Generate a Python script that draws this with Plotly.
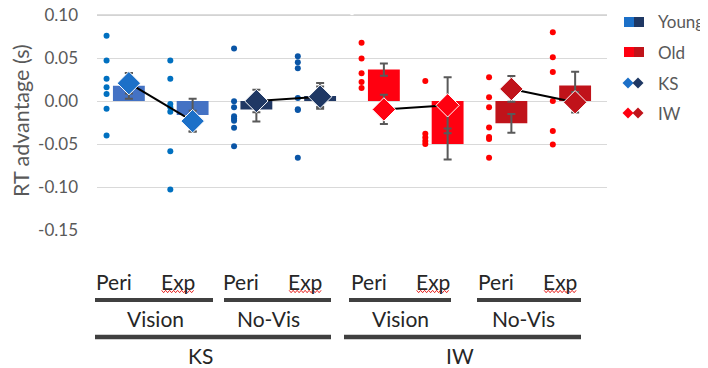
import plotly.graph_objects as go

# ---------------- data ----------------
subjects = ["KS", "IW"]
vision_groups = ["Vision", "No-Vis", "Vision", "No-Vis"]
phases = ["Peri", "Exp", "Peri", "Exp", "Peri", "Exp", "Peri", "Exp"]

bar_values = [0.0176, -0.0164, -0.0098, 0.0059, 0.0365, -0.0500, -0.0260, 0.0179]
bar_errors = [0.0150, 0.0190, 0.0140, 0.0150, 0.0070, 0.0180, 0.0110, 0.0160]

diamond_values = [0.0207, -0.0234, 0.0000, 0.0050, -0.0098, -0.0050, 0.0140, -0.0015]
diamond_errors = [0.0120, 0.0120, 0.0130, 0.0120, 0.0170, 0.0326, 0.0150, 0.0120]

dots_ks_vis_peri = [0.076, 0.047, 0.026, 0.016, 0.008, -0.009, -0.040]
dots_ks_vis_exp = [0.047, 0.026, -0.0035, -0.0074, -0.0125, -0.0585, -0.103]
dots_ks_nov_peri = [0.061, -0.0004, -0.0074, -0.0176, -0.0207, -0.023, -0.031, -0.0527]
dots_ks_nov_exp = [0.052, 0.045, 0.038, 0.0035, -0.0097, -0.0105, -0.066]
dots_iw_vis_peri = [0.0676, 0.0495, 0.0324, 0.0222, 0.0152]
dots_iw_vis_exp = [0.0234, -0.038, -0.0425, -0.0465, -0.050, -0.154]
dots_iw_nov_peri = [0.0277, 0.0043, -0.0074, -0.0308, -0.0418, -0.0441, -0.066]
dots_iw_nov_exp = [0.080, 0.051, 0.0336, 0.0, -0.0348, -0.0507]

tick_values = [0.10, 0.05, 0.00, -0.05, -0.10, -0.15]
tick_labels = ["0.10", "0.05", "0.00", "-0.05", "-0.10", "-0.15"]

legend_labels = ["Young", "Old", "KS", "IW"]

# ---------------- styles ----------------
all_dots = [dots_ks_vis_peri, dots_ks_vis_exp, dots_ks_nov_peri, dots_ks_nov_exp,
            dots_iw_vis_peri, dots_iw_vis_exp, dots_iw_nov_peri, dots_iw_nov_exp]
bar_colors = ["#4472C4", "#4472C4", "#203864", "#203864",
              "#FF0010", "#FF0010", "#C0131A", "#C0131A"]
diamond_colors = ["#1C70C8", "#1C70C8", "#1F3864", "#1F3864",
                  "#FF0010", "#FF0010", "#C0131A", "#C0131A"]
dot_colors = ["#0070C0", "#0070C0", "#0A55A6", "#0A55A6",
              "#FF0000", "#FF0000", "#FF0000", "#FF0000"]
ERR = "#595959"
GRID = "#D9D9D9"
FONT = "Lato"

# window size and the page's default body margin
W, H = 708, 368
BODY = 8
# plot area in window pixel coordinates (zero line at y=101, 860 px per unit)
PL, PR, PT, PB = 97, 607, 12, 230
Y0, KPX = 101, 860.0
Y_RANGE = [(Y0 - PB) / KPX, (Y0 - PT) / KPX]


def px(x):
    return (x - PL) / (PR - PL)


def py(y):
    return (PB - y) / (PB - PT)


n = len(bar_values)
xs = list(range(n))
half = n / 2 - 0.5

fig = go.Figure()

# bars
fig.add_trace(go.Bar(
    x=xs, y=bar_values, width=0.5,
    marker=dict(color=bar_colors, line=dict(width=0)),
    error_y=dict(type="data", array=bar_errors, color=ERR, thickness=2, width=4),
    showlegend=False, hoverinfo="skip",
))

# individual dots
for i, vals in enumerate(all_dots):
    fig.add_trace(go.Scatter(
        x=[i - 0.35] * len(vals), y=vals, mode="markers",
        marker=dict(size=6, color=dot_colors[i]),
        cliponaxis=False, showlegend=False, hoverinfo="skip",
    ))

# diamonds with connecting lines (pairs Peri -> Exp)
for p in range(n // 2):
    idx = [2 * p, 2 * p + 1]
    fig.add_trace(go.Scatter(
        x=idx, y=[diamond_values[i] for i in idx], mode="lines+markers",
        line=dict(color="black", width=2),
        marker=dict(symbol="diamond", size=18,
                    color=[diamond_colors[i] for i in idx],
                    line=dict(color="white", width=1)),
        error_y=dict(type="data", array=[diamond_errors[i] for i in idx],
                     color=ERR, thickness=2, width=4),
        cliponaxis=False, showlegend=False, hoverinfo="skip",
    ))

shapes = []
annotations = []

# top gridline, drawn explicitly in two panel segments (nothing in the data reaches it)
for a, b in [(-0.5, half - 0.025), (half + 0.025, n - 0.5)]:
    shapes.append(dict(type="line", xref="x", yref="y", x0=a, x1=b,
                       y0=tick_values[0], y1=tick_values[0],
                       line=dict(color="#D0D0D0", width=1.5), layer="above"))

# small gap in the gridlines between the two panels
shapes.append(dict(type="line", xref="x", yref="paper", x0=half, x1=half, y0=-0.01, y1=0.98,
                   line=dict(color="white", width=3), layer="between"))

# y-axis title
annotations.append(dict(text="RT advantage (s)", xref="paper", yref="paper",
                        x=px(21), y=py(121), textangle=-90, showarrow=False,
                        xanchor="center", yanchor="middle",
                        font=dict(family=FONT, size=21.5, color="#595959")))

# Peri / Exp labels
LBL = "#262626"
for i, lab in enumerate(phases):
    annotations.append(dict(text=lab, xref="x", yref="paper", x=i, xshift=-15,
                            y=py(281), showarrow=False, xanchor="center", yanchor="middle",
                            font=dict(family=FONT, size=21, color=LBL)))
    if lab == "Exp":
        # spell-check squiggle under the word
        cx = PL + (i + 0.5) * (PR - PL) / n - 15
        x0, x1, yb = cx - 16, cx + 17, 291.5
        pts = []
        k = 0
        x = x0
        while x <= x1:
            yy = yb - 1.2 if k % 2 == 0 else yb + 1.2
            pts.append((x, yy))
            x += 2
            k += 1
        path = "M " + " L ".join(f"{px(a):.5f},{py(b):.5f}" for a, b in pts)
        shapes.append(dict(type="path", xref="paper", yref="paper", path=path,
                           line=dict(color="#E8201C", width=1)))

# level-1 underlines and Vision / No-Vis labels
lvl1 = [(95, 213), (224, 331), (349, 451), (477, 581)]
lvl1_lbl = [155, 268, 400, 523]
for (a, b), c, lab in zip(lvl1, lvl1_lbl, vision_groups):
    shapes.append(dict(type="line", xref="paper", yref="paper", x0=px(a), x1=px(b),
                       y0=py(300), y1=py(300), line=dict(color="#404040", width=4)))
    annotations.append(dict(text=lab, xref="paper", yref="paper", x=px(c), y=py(318),
                            showarrow=False, xanchor="center", yanchor="middle",
                            font=dict(family=FONT, size=21, color=LBL)))

# level-2 underlines and subject labels
lvl2 = [(95, 331), (344, 581)]
lvl2_lbl = [200, 460]
for (a, b), c, lab in zip(lvl2, lvl2_lbl, subjects):
    shapes.append(dict(type="line", xref="paper", yref="paper", x0=px(a), x1=px(b),
                       y0=py(337), y1=py(337), line=dict(color="#404040", width=4.5)))
    annotations.append(dict(text=lab, xref="paper", yref="paper", x=px(c), y=py(355),
                            showarrow=False, xanchor="center", yanchor="middle",
                            font=dict(family=FONT, size=21, color=LBL)))

# custom legend (two-tone symbols)
leg_rows = [22, 52, 83, 113]
leg_pairs = [(diamond_colors[0], diamond_colors[2]), (bar_colors[4], bar_colors[6]),
             (diamond_colors[0], diamond_colors[2]), (bar_colors[4], bar_colors[6])]
for r, (lab, (c1, c2), yc) in enumerate(zip(legend_labels, leg_pairs, leg_rows)):
    if r < 2:
        for j, c in enumerate((c1, c2)):
            shapes.append(dict(type="rect", xref="paper", yref="paper",
                               x0=px(624 + 10 * j), x1=px(634 + 10 * j),
                               y0=py(yc + 5), y1=py(yc - 5),
                               fillcolor=c, line=dict(width=0)))
    else:
        for j, c in enumerate((c1, c2)):
            cx = 628 + 10 * j
            h = 5.5
            path = (f"M {px(cx - h):.5f},{py(yc):.5f} L {px(cx):.5f},{py(yc - h):.5f} "
                    f"L {px(cx + h):.5f},{py(yc):.5f} L {px(cx):.5f},{py(yc + h):.5f} Z")
            shapes.append(dict(type="path", xref="paper", yref="paper", path=path,
                               fillcolor=c, line=dict(width=0)))
    annotations.append(dict(text=lab, xref="paper", yref="paper", x=px(656), y=py(yc),
                            showarrow=False, xanchor="left", yanchor="middle",
                            font=dict(family=FONT, size=17, color="#595959")))

fig.update_layout(
    width=W - BODY, height=H - BODY,
    margin=dict(l=PL - BODY, r=W - PR, t=PT - BODY, b=H - PB, autoexpand=False),
    paper_bgcolor="white", plot_bgcolor="white",
    barmode="overlay", showlegend=False,
    shapes=shapes, annotations=annotations,
    xaxis=dict(range=[-0.5, n - 0.5], showticklabels=False, showgrid=False,
               zeroline=False, showline=False, fixedrange=True),
    yaxis=dict(range=Y_RANGE, tickvals=tick_values, ticktext=tick_labels,
               showgrid=True, gridcolor=GRID, gridwidth=1, zeroline=False,
               showline=False, ticks="", ticklabelstandoff=18,
               ticklabeloverflow="allow",
               tickfont=dict(family=FONT, size=17, color="#595959"), fixedrange=True),
)

fig.write_html("out.html")
